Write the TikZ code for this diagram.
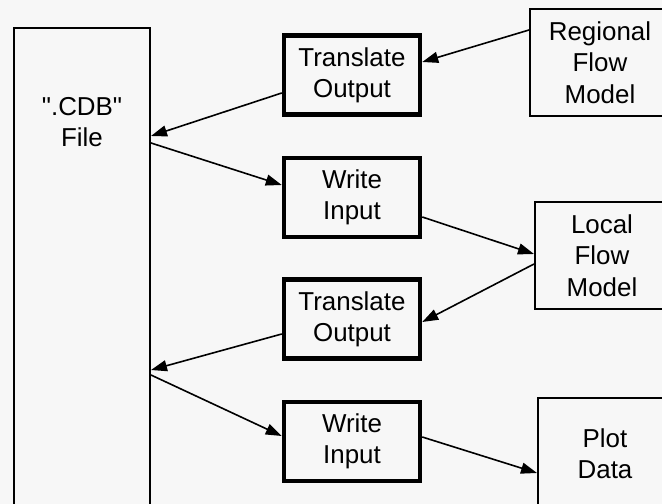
\documentclass[tikz,border=0pt]{standalone}
\usepackage{fontspec}
\newfontfamily\hv{Liberation Sans}
\usetikzlibrary{arrows.meta}
\definecolor{bg}{RGB}{247,247,247}
\begin{document}
\begin{tikzpicture}[x=1bp,y=-1bp,
  txt/.style={align=center, inner sep=0pt, font=\hv\fontsize{26}{31.5}\selectfont},
  box/.style={txt, draw, rectangle, line width=2bp},
  thickbox/.style={box, line width=4.5bp, minimum width=136bp, minimum height=79bp},
  conn/.style={line width=1.6bp, -{Triangle[length=16bp,width=11bp]}}]
\fill[bg] (0,0) rectangle (662,504);
\useasboundingbox (0,0) rectangle (662,504);
\clip (0,0) rectangle (662,504);
% nodes
\node[box, minimum width=136bp, minimum height=500bp] (cdb) at (82,278) {};
\node[txt] (cdbt) at (82,122) {".CDB"\\File};
\node[thickbox] (t1) at (352,75) {Translate\\Output};
\node[thickbox] (w1) at (352,197.5) {Write\\Input};
\node[thickbox] (t2) at (352,319) {Translate\\Output};
\node[thickbox] (w2) at (352,441.5) {Write\\Input};
\node[box, minimum width=140bp, minimum height=107bp] (reg) at (600,62.5) {Regional\\Flow\\Model};
\node[box, minimum width=134bp, minimum height=107bp] (loc) at (602,255.5) {Local\\Flow\\Model};
\node[box, minimum width=134bp, minimum height=112bp] (plot) at (605,454) {Plot\\Data};
% connectors
\draw[conn] ([yshift=32.5bp]reg.west) -- ([yshift=13bp]t1.east);
\draw[conn] ([yshift=-18bp]t1.west) -- ([yshift=142bp]cdb.east);
\draw[conn] ([yshift=135bp]cdb.east) -- ([yshift=12.5bp]w1.west);
\draw[conn] ([yshift=-19.5bp]w1.east) -- ([yshift=1.5bp]loc.west);
\draw[conn] ([yshift=-8.5bp]loc.west) -- ([yshift=-3bp]t2.east);
\draw[conn] ([yshift=-15bp]t2.west) -- ([yshift=-92bp]cdb.east);
\draw[conn] ([yshift=-97bp]cdb.east) -- ([yshift=5.5bp]w2.west);
\draw[conn] ([yshift=4.5bp]w2.east) -- ([yshift=-19bp]plot.west);
\end{tikzpicture}
\end{document}
